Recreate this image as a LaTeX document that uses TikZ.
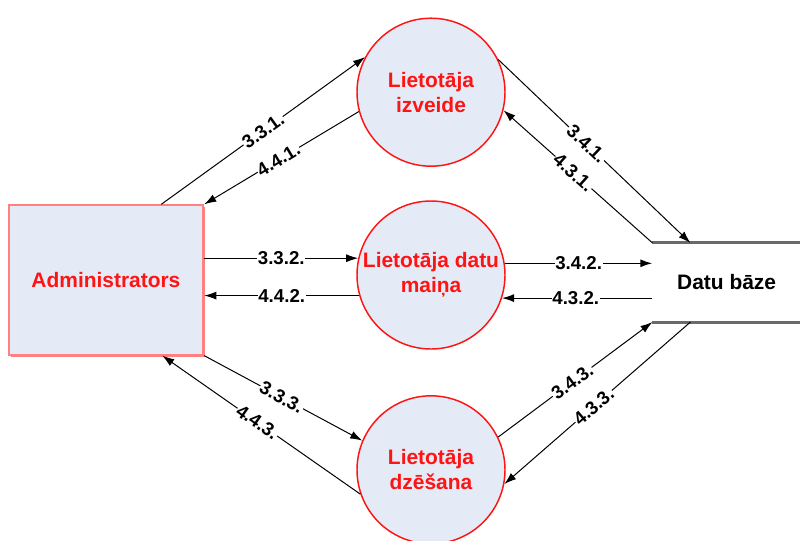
\documentclass[tikz,border=0pt]{standalone}
\usepackage{fontspec}
\setmainfont{Liberation Sans}
\usetikzlibrary{shapes,positioning,calc,arrows.meta,shadows}

\definecolor{procfill}{HTML}{E4EAF6}
\definecolor{procred}{HTML}{FF1414}
\definecolor{entityline}{HTML}{FF8080}
\definecolor{storeline}{HTML}{6A6A6A}

\begin{document}
\begin{tikzpicture}[
    x=0.75pt, y=-0.75pt,
    process/.style = {circle, draw=procred, line width=1.1pt, fill=procfill, minimum size=111pt, inner sep=0pt, align=center, text=procred, font=\fontsize{15.7}{18.8}\selectfont\bfseries},
    entity/.style = {rectangle, draw=entityline, line width=1.5pt, fill=procfill, minimum width=146pt, minimum height=112pt, text=procred, font=\fontsize{15.7}{18.8}\selectfont\bfseries, drop shadow={shadow xshift=1.5pt, shadow yshift=-1.5pt, fill=entityline, opacity=1}},
    store/.style = {minimum width=111pt, minimum height=59pt, font=\fontsize{15.7}{18.8}\selectfont\bfseries},
    storeline/.style = {draw=storeline, line width=2.2pt},
    flow/.style = {-{Latex[length=9pt,width=6pt]}, line width=0.75pt},
    num/.style = {sloped, fill=white, inner sep=0.5pt, font=\fontsize{14}{14}\selectfont\bfseries}
    ]
    \useasboundingbox (0,0) rectangle (800,540);

    \node[process] (maina) at (431,275) {Lietotāja datu\\maiņa};
    \node[process, above=25pt of maina] (izveide) {Lietotāja\\izveide};
    \node[process, below=34pt of maina] (dzesana) {Lietotāja\\dzēšana};
    \node[entity, left=114pt of maina, yshift=-3.75pt] (admin) {Administrators};
    \node[store, right=110pt of maina, yshift=-5.6pt] (db) {Datu bāze};

    \draw[storeline] (db.north west) -- (db.north east);
    \draw[storeline] (db.south west) -- (db.south east);

    % Administrators <-> izveide, izveide <-> db
    \draw[flow] ($(admin.north east)+(-43,0)$) -- node[num, pos=0.5] {3.3.1.} (izveide.152);
    \draw[flow] (izveide.195) -- node[num, pos=0.52] {4.4.1.} (admin.north east);
    \draw[flow] (izveide.26) -- node[num, pos=0.46] {3.4.1.} ($(db.north west)+(38,0)$);
    \draw[flow] (db.north west) -- node[num, pos=0.53] {4.3.1.} (izveide.346);

    % maina
    \draw[flow] (admin.east |- maina.167) -- node[num, pos=0.5] {3.3.2.} (maina.167);
    \draw[flow] (maina.196) -- node[num, pos=0.5] {4.4.2.} (admin.east |- maina.196);
    \draw[flow, line width=1.2pt] (maina.9) -- node[num, pos=0.5] {3.4.2.} (db.west |- maina.9);
    \draw[flow] (db.west |- maina.342) -- node[num, pos=0.51] {4.3.2.} (maina.342);

    % dzesana
    \draw[flow] (admin.south east) -- node[num, pos=0.49] {3.3.3.} (dzesana.157);
    \draw[flow] (dzesana.199) -- node[num, pos=0.52] {4.4.3.} ($(admin.south east)+(-42,0)$);
    \draw[flow] (dzesana.26) -- node[num, pos=0.48] {3.4.3.} (db.south west);
    \draw[flow] ($(db.south west)+(38,0)$) -- node[num, pos=0.52] {4.3.3.} (dzesana.349);
\end{tikzpicture}
\end{document}
